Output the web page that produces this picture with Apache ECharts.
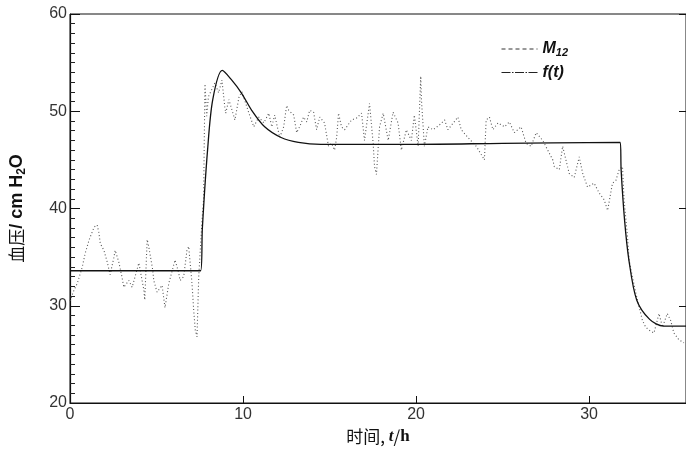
<!DOCTYPE html>
<html>
<head>
<meta charset="utf-8">
<script src="https://cdn.jsdelivr.net/npm/echarts@6/dist/echarts.min.js"></script>
<style>
  html, body { margin: 0; padding: 0; background: #fff; }
  #chart { width: 686px; height: 450px; }
</style>
</head>
<body>
<div id="chart"></div>
<script>
// 测量值 M12 (时间 t/h, 压力 cm H2O)
const mT = [0, 0.23, 0.42, 0.71, 0.88, 1.11, 1.40, 1.57, 1.67, 1.75, 1.96, 2.15, 2.32, 2.54, 2.61, 2.82, 3.01, 3.11, 3.40, 3.59,
  3.98, 4.27, 4.32, 4.46, 4.55, 4.78, 4.84, 5.03, 5.32, 5.49, 5.71, 6.07, 6.28, 6.36, 6.57, 6.76, 6.86, 7.05, 7.15, 7.24,
  7.34, 7.44, 7.63, 7.72, 7.76, 7.80, 7.90, 8.00, 8.37, 8.59, 8.78, 8.95, 9.00, 9.18, 9.53, 9.77, 9.94, 10.34, 10.62, 10.91,
  11.20, 11.49, 11.66, 11.83, 12.12, 12.35, 12.52, 12.64, 12.93, 13.10, 13.27, 13.50, 13.68, 13.85, 14.08, 14.25, 14.43, 14.71, 14.94, 15.12,
  15.29, 15.41, 15.52, 15.69, 15.87, 16.27, 16.56, 16.85, 17.02, 17.31, 17.52, 17.60, 17.71, 17.89, 18.10, 18.39, 18.67, 18.96, 19.15, 19.44,
  19.73, 19.90, 20.12, 20.27, 20.31, 20.48, 20.69, 20.98, 21.36, 21.65, 21.84, 22.42, 22.61, 23.00, 23.48, 23.95, 24.05, 24.24, 24.44, 24.73,
  25.11, 25.39, 25.68, 26.07, 26.36, 26.65, 26.94, 27.32, 27.61, 27.90, 27.99, 28.28, 28.47, 28.66, 28.85, 29.14, 29.43, 29.63, 29.91, 30.29,
  30.58, 30.87, 31.07, 31.35, 31.55, 31.74, 31.93, 32.02, 32.22, 32.31, 32.51, 32.70, 32.89, 33.08, 33.27, 33.46, 33.75, 34.04, 34.24, 34.52,
  34.71, 34.90, 35.19, 35.48];
const mV = [30.5, 31.6, 32.3, 34.0, 35.4, 36.8, 38.1, 38.3, 37.5, 36.4, 35.7, 34.5, 33.2, 35.0, 35.7, 34.5, 32.9, 31.9, 32.6, 31.9,
  34.4, 31.6, 30.6, 36.8, 36.1, 33.7, 32.6, 31.4, 32.1, 29.8, 32.3, 34.7, 33.4, 32.6, 33.0, 35.7, 36.1, 32.3, 29.5, 27.5,
  26.8, 33.0, 38.8, 40.9, 47.0, 52.8, 49.5, 51.5, 52.9, 51.9, 53.2, 50.4, 49.8, 51.2, 49.1, 51.5, 52.0, 49.8, 48.4, 49.4,
  48.8, 49.8, 48.4, 49.6, 47.3, 48.4, 50.6, 50.1, 49.6, 47.8, 48.4, 49.4, 48.9, 50.1, 49.9, 48.1, 49.4, 48.8, 46.4, 46.7,
  46.0, 47.3, 49.8, 48.4, 48.1, 49.1, 49.3, 49.8, 47.0, 50.8, 46.7, 44.3, 43.5, 48.4, 49.8, 47.0, 49.9, 48.8, 46.0, 48.1,
  47.0, 49.6, 46.4, 53.6, 51.2, 46.4, 48.4, 48.1, 48.6, 49.1, 48.1, 49.4, 48.1, 47.3, 46.4, 45.0, 49.1, 49.4, 48.1, 48.8,
  48.4, 48.9, 47.8, 48.4, 46.7, 46.4, 47.8, 47.0, 46.0, 45.0, 44.3, 44.0, 46.4, 45.0, 43.6, 43.2, 45.3, 43.6, 42.2, 42.6,
  41.6, 40.9, 39.8, 42.6, 42.9, 44.0, 44.3, 40.9, 37.1, 34.7, 32.9, 31.3, 29.9, 28.5, 27.8, 27.5, 27.2, 29.2, 27.8, 29.2,
  28.5, 27.2, 26.5, 26.2];

// 拟合曲线 f(t)
const fT = [0, 7.55, 7.65, 7.95, 8.25, 8.8, 9.35, 9.9, 10.5, 11.25, 12.2, 13.2, 14.5, 20, 25, 31.8, 31.85, 32.05, 32.3, 32.75, 33.5, 34.3, 35.6];
const fV = [33.6, 33.6, 38.0, 46.0, 51.2, 54.2, 53.2, 51.9, 50.1, 48.4, 47.3, 46.8, 46.6, 46.6, 46.7, 46.8, 44.0, 38.8, 34.7, 30.6, 28.6, 27.9, 27.9];

const xTicks = [0, 10, 20, 30];
const yTicks = [20, 30, 40, 50, 60];

const chart = echarts.init(document.getElementById('chart'));

const labelFont = { color: '#333', fontSize: 16, fontFamily: 'Liberation Sans' };

chart.setOption({
  animation: false,
  grid: { left: 68, right: 0, top: 14, bottom: 47, show: true, borderColor: '#111', borderWidth: 1 },
  legend: {
    orient: 'vertical',
    left: 496,
    top: 36,
    itemGap: 6,
    itemWidth: 36,
    itemHeight: 12,
    itemStyle: { opacity: 0 },
    data: [
      { name: 'M12', lineStyle: { type: [4, 3], width: 1, color: '#333' } },
      { name: 'f(t)', lineStyle: { type: [9, 1.5, 1.5, 1.5], width: 1, color: '#222' } }
    ],
    formatter: function (name) {
      return name === 'M12' ? '{m|M}{s|12}' : '{m|f(t)}';
    },
    textStyle: {
      rich: {
        m: { fontSize: 16, fontWeight: 'bold', fontStyle: 'italic', fontFamily: 'Liberation Sans', color: '#111' },
        s: { fontSize: 11, fontWeight: 'bold', fontStyle: 'italic', fontFamily: 'Liberation Sans', color: '#111', padding: [8, 0, 0, 0] }
      }
    }
  },
  xAxis: {
    type: 'value',
    min: 0,
    max: 35.6,
    interval: 10,
    name: '{c|时间}{c|, }{i|t}{c|/}{b|h}',
    nameLocation: 'middle',
    nameGap: 24,
    nameTextStyle: {
      rich: {
        c: { fontSize: 17, fontFamily: 'Noto Sans CJK SC', color: '#111' },
        i: { fontSize: 17, fontStyle: 'italic', fontWeight: 'bold', fontFamily: 'Liberation Serif', color: '#111' },
        b: { fontSize: 17, fontWeight: 'bold', fontFamily: 'Liberation Serif', color: '#111' }
      }
    },
    axisLine: { lineStyle: { color: '#111', width: 1.2 } },
    axisTick: { inside: true, length: 7, lineStyle: { color: '#111' } },
    axisLabel: {
      ...labelFont, margin: 4, showMaxLabel: false,
      formatter: v => xTicks.includes(v) ? String(v) : ''
    },
    splitLine: { show: false }
  },
  yAxis: [{
    type: 'value',
    min: 20,
    max: 60,
    interval: 10,
    name: '{c|血压}{b|/ cm H}{s|2}{b|O}',
    nameLocation: 'middle',
    nameGap: 42,
    nameTextStyle: {
      rich: {
        c: { fontSize: 17, fontFamily: 'Noto Sans CJK SC', color: '#111' },
        b: { fontSize: 18, fontWeight: 'bold', fontFamily: 'Liberation Sans', color: '#111' },
        s: { fontSize: 12, fontWeight: 'bold', fontFamily: 'Liberation Sans', color: '#111', padding: [10, 0, 0, 0] }
      }
    },
    axisLine: { lineStyle: { color: '#111', width: 1.2 } },
    axisTick: { inside: true, length: 10, lineStyle: { color: '#111' } },
    minorTick: { show: true, splitNumber: 10, length: 5, lineStyle: { color: '#222' } },
    axisLabel: { ...labelFont, margin: 3, formatter: v => yTicks.includes(v) ? String(v) : '' },
    splitLine: { show: false }
  }, {
    type: 'value',
    position: 'right',
    min: 20,
    max: 60,
    interval: 10,
    axisLine: { show: false },
    axisTick: { inside: true, length: 7, lineStyle: { color: '#111' } },
    axisLabel: { show: false },
    splitLine: { show: false }
  }],
  series: [
    {
      name: 'M12',
      type: 'line',
      symbol: 'none',
      data: mT.map((t, i) => [t, mV[i]]),
      itemStyle: { color: '#333' },
      lineStyle: { color: '#555', width: 1.1, type: [1, 2.4] },
      z: 2
    },
    {
      name: 'f(t)',
      type: 'line',
      symbol: 'none',
      data: fT.map((t, i) => [t, fV[i]]),
      smooth: 0.3,
      itemStyle: { color: '#111' },
      lineStyle: { color: '#111', width: 1.3 },
      z: 3
    }
  ]
});
</script>
</body>
</html>
